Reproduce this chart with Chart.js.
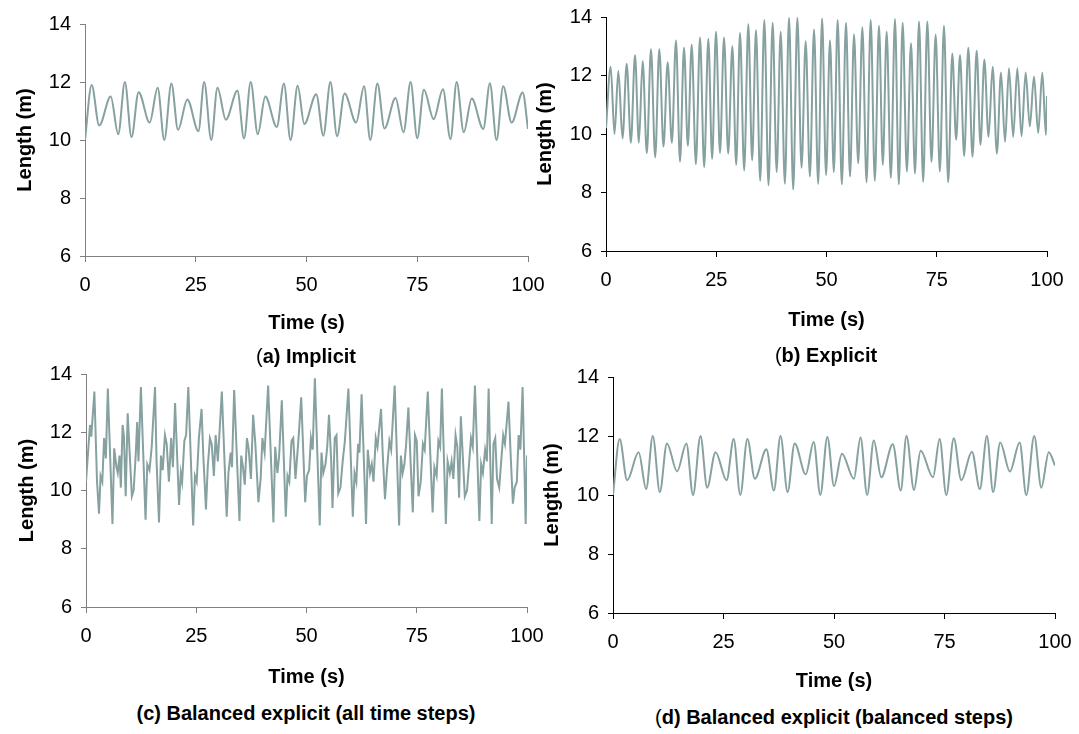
<!DOCTYPE html>
<html>
<head>
<meta charset="utf-8">
<script src="https://cdn.jsdelivr.net/npm/chart.js@4.4.1/dist/chart.umd.min.js"></script>
<style>
  body { margin: 0; background: #fff; width: 1079px; height: 734px; overflow: hidden; position: relative; }
  canvas { position: absolute; }
  .caption { position: absolute; transform: translateX(-50%); white-space: nowrap;
    font: bold 20px "Liberation Sans", Arial, sans-serif; line-height: 24px; color: #000; }
  .caption span { font-weight: normal; }
</style>
</head>
<body>
<canvas id="chart-a" width="550" height="336" style="left:13px;top:-1px"></canvas>
<canvas id="chart-b" width="549" height="340" style="left:533px;top:-8px"></canvas>
<canvas id="chart-c" width="547" height="340" style="left:15px;top:349px"></canvas>
<canvas id="chart-d" width="550" height="341" style="left:540px;top:352px"></canvas>
<div class="caption" style="left:306px;top:344px"><span>(</span>a) Implicit</div>
<div class="caption" style="left:826px;top:343px"><span>(</span>b) Explicit</div>
<div class="caption" style="left:306px;top:701px">(c) Balanced explicit (all time steps)</div>
<div class="caption" style="left:834px;top:705px"><span>(</span>d) Balanced explicit (balanced steps)</div>
<script>
// (a) implicit - turning points of the curve
const timeA = [0, 1.5, 3.2, 5.8, 7.5, 9.0, 10.5, 12.1, 14.6, 16.4, 17.9, 19.5, 21.0, 23.1, 25.6, 26.9, 28.5, 29.9, 31.8, 34.4,
  35.9, 37.4, 39.0, 40.7, 43.3, 44.9, 46.4, 48.0, 49.5, 52.2, 53.8, 55.4, 56.9, 58.6, 61.2, 63.0, 64.4, 66.0, 67.6, 70.1,
  71.9, 73.5, 75.0, 76.5, 78.7, 80.8, 82.5, 83.9, 85.5, 87.3, 89.9, 91.4, 92.9, 94.4, 96.3, 98.8, 100];
const lengthA = [10.0, 11.9, 10.5, 11.5, 10.2, 12.0, 10.1, 11.65, 10.6, 11.8, 10.0, 11.95, 10.35, 11.4, 10.3, 12.0, 10.0, 11.8, 10.7, 11.7,
  10.05, 12.0, 10.2, 11.5, 10.45, 11.95, 10.0, 11.87, 10.55, 11.58, 10.15, 12.0, 10.13, 11.6, 10.6, 11.85, 10.0, 11.95, 10.4, 11.45,
  10.27, 12.0, 10.06, 11.73, 10.72, 11.75, 10.03, 12.0, 10.27, 11.43, 10.38, 11.96, 10.0, 11.85, 10.6, 11.64, 10.38];

// (b) explicit - peaks and troughs
const startB = [0, 10.2];
const endB = [100, 11.3];
const peakTimeB = [1.06, 2.8, 4.69, 6.58, 8.31, 10.2, 12.09, 13.98, 15.87, 17.69, 19.43, 21.32, 23.2, 24.94, 26.76, 28.65, 30.39,
  32.27, 34.01, 35.9, 37.79, 39.61, 41.5, 43.39, 45.28, 47.17, 49.0, 50.79, 52.53, 54.42, 56.24, 58.13, 60.02, 61.9, 63.64,
  65.53, 67.27, 69.16, 70.98, 72.86, 74.75, 76.64, 78.53, 80.27, 82.16, 84.05, 85.79, 87.68, 89.57, 91.38, 93.27, 95.16, 97.05, 98.94];
const peakLengthB = [12.3, 12.15, 12.4, 12.7, 12.5, 12.9, 12.9, 12.45, 13.2, 12.95, 13.05, 13.3, 13.25, 13.5, 13.3, 13.0, 13.45,
  13.75, 13.55, 13.9, 13.8, 13.5, 13.97, 13.97, 13.17, 13.57, 13.95, 13.2, 13.9, 13.8, 13.4, 13.65, 13.9, 13.7, 13.5,
  13.93, 13.8, 13.1, 13.85, 13.85, 13.4, 13.7, 12.75, 12.7, 12.95, 12.85, 12.55, 12.3, 12.1, 12.25, 12.25, 12.1, 11.97, 12.1];
const troughTimeB = [1.93, 3.75, 5.64, 7.45, 9.26, 11.15, 13.04, 14.93, 16.78, 18.56, 20.38, 22.26, 24.07, 25.85, 27.71, 29.52,
  31.33, 33.14, 34.96, 36.85, 38.7, 40.56, 42.45, 44.34, 46.23, 48.11, 49.9, 51.66, 53.48, 55.33, 57.19, 59.08, 60.96, 62.77,
  64.59, 66.4, 68.22, 70.07, 71.92, 73.81, 75.7, 77.59, 79.4, 81.22, 83.1, 84.92, 86.74, 88.63, 90.48, 92.33, 94.22, 96.1, 98.0, 99.75];
const troughLengthB = [10.0, 9.85, 9.7, 9.7, 9.35, 9.2, 9.57, 9.7, 9.05, 9.6, 8.97, 8.87, 9.15, 9.35, 9.33, 8.95,
  8.75, 9.1, 8.4, 8.25, 8.7, 8.3, 8.1, 8.85, 8.55, 8.3, 8.6, 8.7, 8.28, 8.55, 9.0, 8.35, 8.4, 8.95,
  8.5, 8.28, 8.72, 8.65, 8.37, 9.05, 8.72, 8.35, 9.8, 9.25, 9.22, 9.63, 9.9, 9.33, 9.73, 9.9, 9.92, 10.26, 10.03, 9.97];

// (c) balanced explicit, all time steps
const timeC = [0, 0.9, 1.2, 1.9, 2.5, 2.95, 3.3, 3.7, 4.1, 4.5,
  4.95, 6.0, 6.4, 6.9, 7.2, 7.6, 7.9, 8.3, 8.6, 9.0,
  9.45, 10.4, 10.8, 11.3, 11.6, 11.9, 12.45, 13.5, 13.9, 14.4,
  14.9, 15.65, 16.0, 16.55, 17.0, 17.4, 17.9, 18.3, 18.8, 19.3,
  19.7, 20.2, 21.1, 21.5, 21.8, 22.3, 22.7, 23.2, 24.3, 24.7,
  25.1, 25.6, 26.2, 26.6, 27.2, 27.6, 28.1, 28.5, 29.0, 29.4,
  29.9, 30.8, 31.9, 32.3, 32.8, 33.1, 33.6, 34.8, 35.2, 35.6,
  36.0, 36.5, 36.9, 37.4, 37.9, 38.4, 39.1, 39.6, 40.0, 40.5,
  41.3, 42.5, 42.9, 43.4, 43.8, 44.4, 45.3, 45.7, 46.1, 46.6,
  47.0, 47.5, 48.2, 48.8, 49.7, 50.1, 50.6, 51.0, 51.4, 51.9,
  53.0, 53.4, 53.8, 54.3, 54.7, 55.1, 55.6, 55.9, 56.4, 56.8,
  57.2, 57.7, 58.2, 58.7, 59.5, 60.5, 60.9, 61.3, 61.7, 62.0,
  62.5, 63.5, 63.9, 64.4, 64.8, 65.2, 65.7, 66.1, 66.9, 67.3,
  67.8, 68.3, 68.8, 69.2, 70.0, 71.0, 71.4, 71.8, 72.2, 72.6,
  73.1, 73.6, 74.1, 74.6, 75.0, 75.4, 75.9, 76.4, 76.8, 77.5,
  78.6, 79.0, 79.5, 79.9, 80.3, 80.7, 81.6, 82.0, 82.5, 82.9,
  83.3, 83.8, 84.2, 84.6, 85.0, 85.4, 85.9, 86.4, 86.9, 87.3,
  87.7, 88.2, 89.2, 89.6, 90.0, 90.5, 90.9, 91.3, 92.0, 92.4,
  92.8, 93.2, 93.7, 94.1, 94.6, 95.0, 95.8, 96.3, 96.8, 97.2,
  97.7, 98.1, 98.5, 99.0, 99.7, 100];
const lengthC = [10.3, 12.25, 11.85, 13.4, 10.3, 9.2, 10.5, 10.3, 11.8, 11.1,
  13.5, 8.85, 11.45, 10.8, 10.6, 11.2, 10.1, 12.25, 11.85, 9.8,
  12.65, 9.8, 10.0, 11.3, 12.35, 11.0, 13.55, 9.0, 10.9, 10.7,
  11.5, 13.55, 11.0, 8.9, 11.2, 10.7, 11.9, 11.6, 10.3, 11.8,
  10.8, 13.0, 9.5, 10.6, 10.3, 11.7, 11.9, 13.55, 8.8, 10.5,
  10.3, 11.8, 12.8, 11.2, 9.35, 10.8, 11.8, 11.6, 10.5, 11.9,
  11.0, 13.4, 9.1, 10.6, 11.3, 10.8, 13.45, 8.95, 11.2, 10.8,
  10.2, 11.8, 11.4, 10.4, 12.6, 11.6, 9.6, 10.4, 11.8, 11.3,
  13.6, 8.9, 11.5, 10.6, 11.2, 13.1, 9.1, 10.5, 10.3, 11.7,
  11.8, 10.4, 11.8, 13.2, 9.6, 10.5, 10.7, 11.8, 11.4, 13.85,
  8.8, 11.3, 10.6, 10.9, 11.5, 12.6, 11.0, 9.4, 11.8, 11.9,
  9.9, 10.1, 11.0, 11.7, 13.5, 9.1, 10.6, 10.3, 11.6, 11.3,
  13.3, 8.85, 11.4, 10.6, 10.9, 10.3, 11.8, 11.5, 12.8, 11.2,
  9.7, 10.8, 11.7, 11.4, 13.6, 8.8, 11.2, 10.6, 10.9, 11.6,
  12.85, 11.0, 9.25, 11.9, 11.7, 9.8, 10.3, 11.6, 11.4, 13.4,
  9.25, 10.8, 10.5, 11.7, 11.5, 13.5, 8.85, 11.0, 10.6, 11.0,
  10.4, 11.9, 11.5, 9.75, 12.55, 11.3, 9.8, 10.0, 11.0, 11.8,
  11.5, 13.6, 8.95, 10.9, 10.6, 11.4, 11.0, 13.5, 8.85, 11.6,
  11.8, 10.4, 10.1, 10.9, 11.9, 11.6, 13.05, 11.2, 9.55, 10.1,
  10.3, 11.9, 11.4, 13.55, 8.85, 11.2];

// (d) balanced explicit, balanced steps - turning points
const timeD = [0, 1.5, 3.2, 5.8, 7.5, 9.0, 10.6, 12.2, 14.5, 16.6, 18.1, 19.8, 21.3, 23.2, 25.7, 27.3, 28.8, 30.4, 32.1, 34.7,
  36.4, 37.9, 39.5, 41.1, 43.6, 45.4, 46.9, 48.5, 50.0, 51.8, 54.5, 56.0, 57.5, 59.0, 60.7, 63.3, 65.1, 66.4, 68.1, 69.6,
  72.4, 73.9, 75.4, 77.1, 78.8, 81.2, 83.0, 84.6, 86.0, 87.6, 89.8, 92.0, 93.5, 95.3, 96.9, 98.6, 100];
const lengthD = [10.0, 11.9, 10.5, 11.45, 10.2, 12.0, 10.1, 11.75, 10.8, 11.75, 10.0, 12.0, 10.25, 11.45, 10.5, 11.9, 10.0, 11.9, 10.55, 11.55,
  10.15, 12.0, 10.1, 11.75, 10.7, 11.8, 10.0, 11.97, 10.3, 11.4, 10.55, 11.95, 10.0, 11.85, 10.6, 11.72, 10.15, 12.0, 10.17, 11.5,
  10.6, 11.9, 10.0, 11.92, 10.5, 11.47, 10.2, 12.0, 10.1, 11.78, 10.8, 11.78, 10.0, 12.0, 10.25, 11.45, 11.0];

const xTicks = [0, 25, 50, 75, 100];
const yTicks = [6, 8, 10, 12, 14];

const lineColor = "#86a1a0";
const fontFamily = '"Liberation Sans", Arial, sans-serif';

const toPoints = (xs, ys) => xs.map((x, i) => ({ x, y: ys[i] }));

const pointsB = [
  { x: startB[0], y: startB[1] },
  ...toPoints(peakTimeB, peakLengthB),
  ...toPoints(troughTimeB, troughLengthB),
  { x: endB[0], y: endB[1] },
].sort((p, q) => p.x - q.x);

function makeChart(id, points, { smooth, axisColor, yW, xH, xPad }) {
  new Chart(document.getElementById(id), {
    type: "line",
    data: {
      datasets: [
        {
          data: points,
          borderColor: lineColor,
          borderWidth: 2,
          pointRadius: 0,
          fill: false,
          cubicInterpolationMode: smooth ? "monotone" : "default",
          tension: 0,
        },
      ],
    },
    options: {
      responsive: false,
      animation: false,
      events: [],
      layout: { padding: { left: 0, top: 25, right: 35, bottom: 0 } },
      plugins: { legend: { display: false }, tooltip: { enabled: false } },
      scales: {
        x: {
          type: "linear",
          min: xTicks[0],
          max: xTicks[xTicks.length - 1],
          afterBuildTicks: (axis) => { axis.ticks = xTicks.map((v) => ({ value: v })); },
          afterFit: (axis) => { axis.height = xH; },
          ticks: { color: "#000", font: { size: 20, family: fontFamily }, padding: xPad, maxRotation: 0, autoSkip: false },
          grid: { drawOnChartArea: false, drawTicks: true, tickLength: 6, color: axisColor },
          border: { color: axisColor, width: 1 },
          title: { display: true, text: "Time (s)", color: "#000", padding: 0,
            font: { size: 20, weight: "bold", family: fontFamily } },
        },
        y: {
          min: yTicks[0],
          max: yTicks[yTicks.length - 1],
          afterBuildTicks: (axis) => { axis.ticks = yTicks.map((v) => ({ value: v })); },
          afterFit: (axis) => { axis.width = yW; },
          ticks: { color: "#000", font: { size: 20, family: fontFamily }, padding: 9, autoSkip: false },
          grid: { drawOnChartArea: false, drawTicks: true, tickLength: 5, color: axisColor },
          border: { color: axisColor, width: 1 },
          title: { display: true, text: "Length (m)", color: "#000", padding: 0,
            font: { size: 20, weight: "bold", family: fontFamily } },
        },
      },
    },
  });
}

makeChart("chart-a", toPoints(timeA, lengthA), { smooth: true, axisColor: "#808080", yW: 72, xH: 79, xPad: 11 });
makeChart("chart-b", pointsB, { smooth: true, axisColor: "#000", yW: 73, xH: 81, xPad: 11 });
makeChart("chart-c", toPoints(timeC, lengthC), { smooth: false, axisColor: "#808080", yW: 71, xH: 82, xPad: 11 });
makeChart("chart-d", toPoints(timeD, lengthD), { smooth: true, axisColor: "#000", yW: 73, xH: 80, xPad: 11 });
</script>
</body>
</html>
